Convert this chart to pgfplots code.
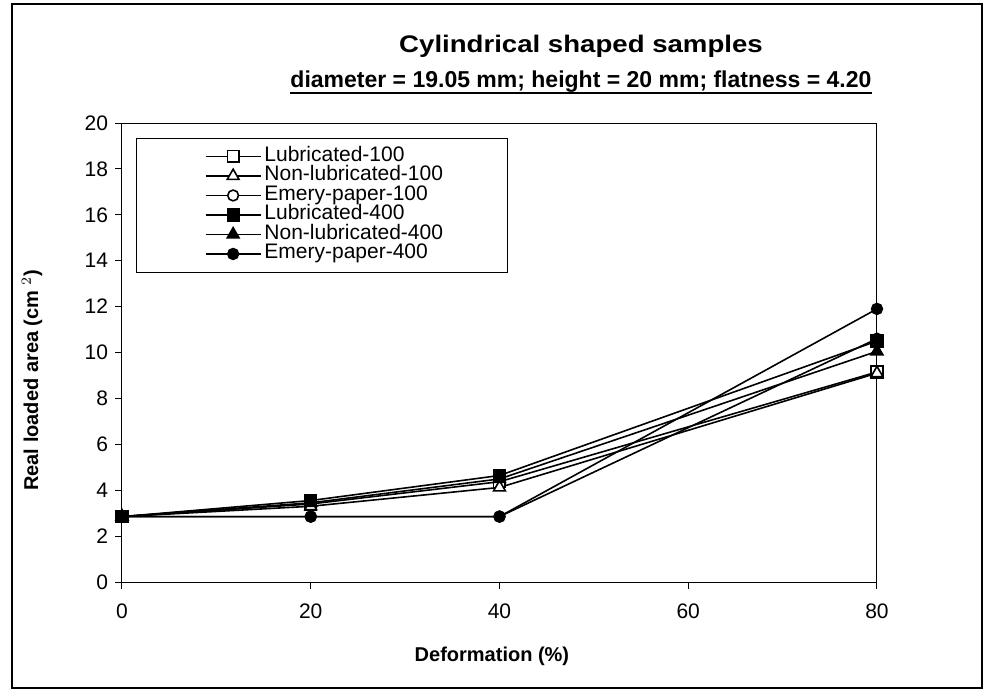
\documentclass[border=0pt]{standalone}
\usepackage{fontspec}
\setmainfont{Liberation Sans}
\usepackage{graphicx}
\usepackage{pgfplots}
\pgfplotsset{compat=1.18}
\newcommand{\legtxt}[1]{\makebox[120pt][l]{#1}}
\begin{document}
\begin{tikzpicture}
\path[use as bounding box] (0pt,0pt) rectangle (493pt,346pt);
\draw[line width=0.6pt] (6pt,2pt) rectangle (491pt,344pt);
\node[font=\fontsize{12}{14}\selectfont\bfseries, inner sep=0pt, anchor=base] at (290.5pt,319.5pt) {\scalebox{1.15}[1]{Cylindrical shaped samples}};
\node[font=\fontsize{11.5}{14}\selectfont\bfseries, inner sep=0pt, anchor=base] (t2) at (290.5pt,302pt) {diameter = 19.05 mm; height = 20 mm; flatness = 4.20};
\draw[line width=1pt] ([yshift=-2.6pt]t2.base west) -- ([yshift=-2.6pt]t2.base east);
\begin{axis}[
  at={(61pt,55pt)}, anchor=south west,
  scale only axis, width=377.5pt, height=229.5pt,
  xmin=0, xmax=80, ymin=0, ymax=20,
  xtick={0,20,40,60,80}, ytick={0,2,...,20},
  tick align=outside, major tick length=3.5pt,
  xtick pos=bottom, ytick pos=left,
  axis line style={line width=0.5pt},
  tick style={line width=0.5pt, black},
  /pgf/number format/assume math mode=true,
  ticklabel style={font=\fontsize{10.5}{12.6}\selectfont},
  xticklabel style={yshift=-4pt},
  xlabel={\textbf{Deformation (\%)}},
  ylabel={\textbf{Real loaded area (cm $^{2}$)}},
  label style={font=\fontsize{10.5}{12.6}\selectfont},
  every axis x label/.style={at={(0.49,0)}, anchor=center, yshift=-37pt},
  every axis y label/.style={at={(0,0.44)}, xshift=-45pt, rotate=90, anchor=center},
  legend style={at={(0.019,0.9675)}, anchor=north west, draw=black, line width=0.5pt,
    inner xsep=0pt, inner ysep=4.15pt, row sep=0pt,
    font=\fontsize{10.5}{12.6}\selectfont,
    nodes={inner xsep=1.5pt, inner ysep=0pt, text height=7.2pt, text depth=2.55pt}},
  legend cell align=left,
  legend image code/.code={\path (-34pt,0pt); \draw[mark repeat=2,mark phase=2,#1] plot coordinates {(0pt,0pt) (13.75pt,0pt) (27.5pt,0pt)};},
  every axis plot/.append style={black, line width=0.8pt, mark options={solid, line width=0.6pt}},
]
\addplot[mark=square*, mark size=2.9pt, mark options={fill=white}] coordinates {(0,2.85) (20,3.4) (40,4.37) (80,9.15)};
\addlegendentry{\legtxt{Lubricated-100}}
\addplot[mark=triangle*, mark size=3.4pt, mark options={fill=white}] coordinates {(0,2.85) (20,3.3) (40,4.12) (80,9.1)};
\addlegendentry{\legtxt{Non-lubricated-100}}
\addplot[mark=*, mark size=2.7pt, mark options={fill=white}] coordinates {(0,2.85) (20,2.85) (40,2.85) (80,10.6)};
\addlegendentry{\legtxt{Emery-paper-100}}
\addplot[mark=square*, mark size=2.9pt, mark options={fill=black}] coordinates {(0,2.85) (20,3.55) (40,4.64) (80,10.5)};
\addlegendentry{\legtxt{Lubricated-400}}
\addplot[mark=triangle*, mark size=3.4pt, mark options={fill=black}] coordinates {(0,2.85) (20,3.45) (40,4.49) (80,10.05)};
\addlegendentry{\legtxt{Non-lubricated-400}}
\addplot[mark=*, mark size=2.7pt, mark options={fill=black}] coordinates {(0,2.85) (20,2.85) (40,2.85) (80,11.9)};
\addlegendentry{\legtxt{Emery-paper-400}}
\end{axis}
\end{tikzpicture}
\end{document}
